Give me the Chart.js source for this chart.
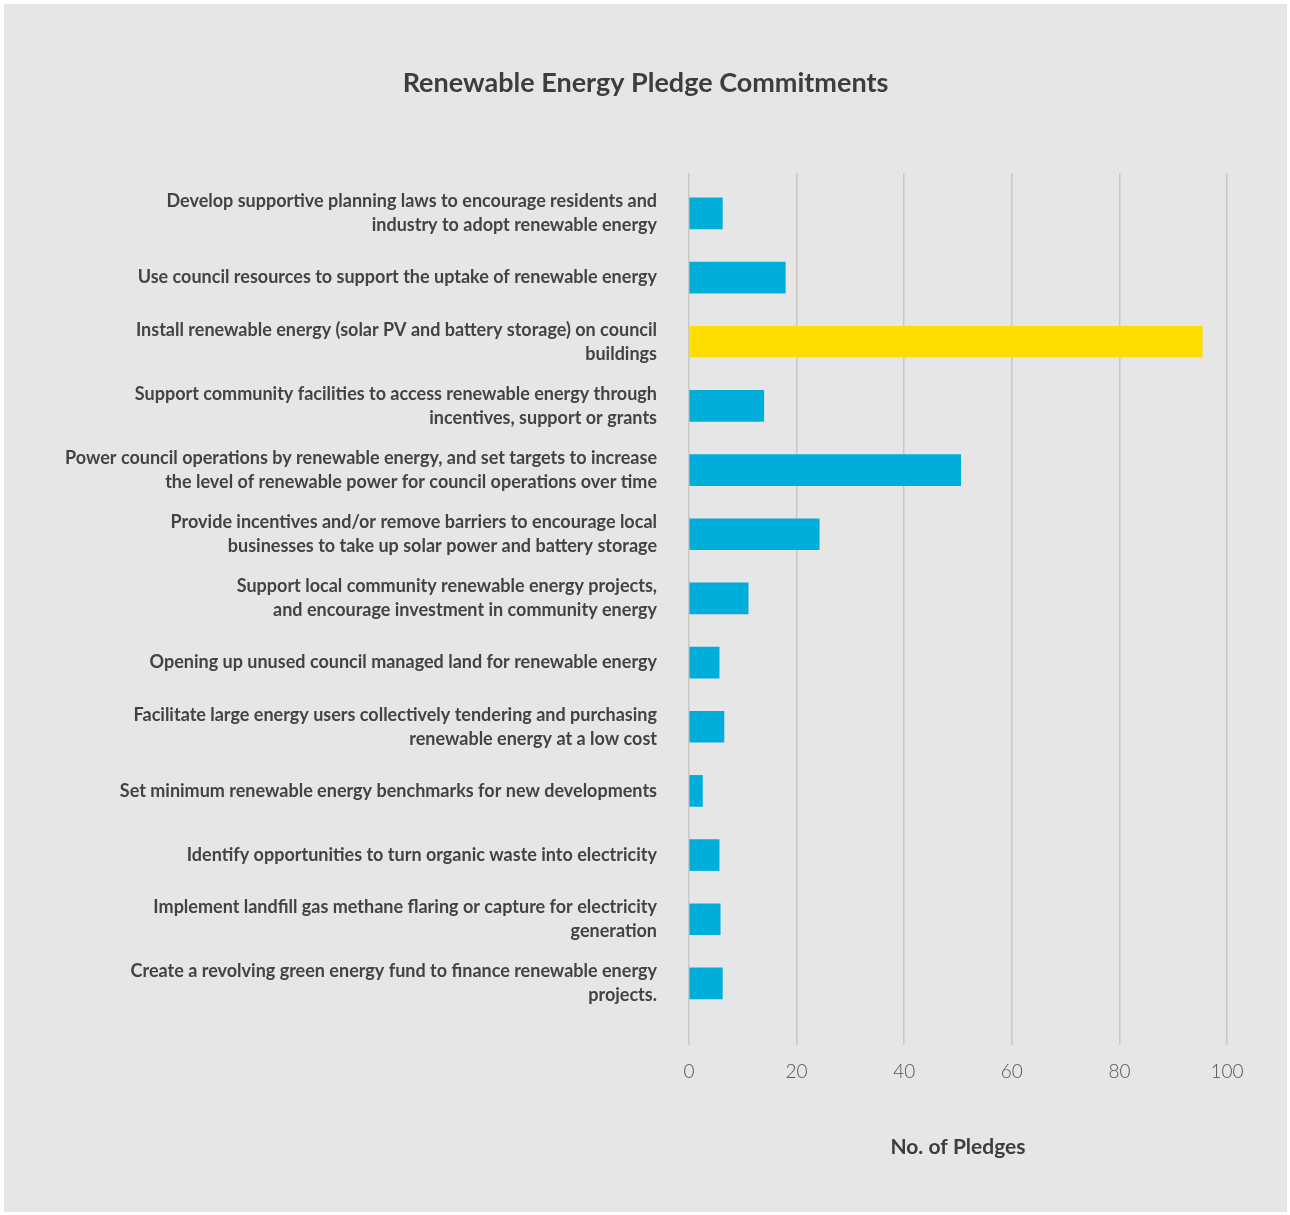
<!DOCTYPE html>
<html>
<head>
<meta charset="utf-8">
<script src="https://cdn.jsdelivr.net/npm/chart.js@4"></script>
<style>
  html, body { margin: 0; padding: 0; background: #ffffff; }
  #box { position: absolute; left: 4px; top: 4px; width: 1283px; height: 1208px; background: #e6e6e6; }
</style>
</head>
<body>
<div id="box"><canvas id="pledgeChart"></canvas></div>
<script>
// Pledge categories (multi-line labels as in the original)
const labels = [
  ['Develop supportive planning laws to encourage residents and', 'industry to adopt renewable energy'],
  'Use council resources to support the uptake of renewable energy',
  ['Install renewable energy (solar PV and battery storage) on council', 'buildings'],
  ['Support community facilities to access renewable energy through', 'incentives, support or grants'],
  ['Power council operations by renewable energy, and set targets to increase', 'the level of renewable power for council operations over time'],
  ['Provide incentives and/or remove barriers to encourage local', 'businesses to take up solar power and battery storage'],
  ['Support local community renewable energy projects,', 'and encourage investment in community energy'],
  'Opening up unused council managed land for renewable energy',
  ['Facilitate large energy users collectively tendering and purchasing', 'renewable energy at a low cost'],
  'Set minimum renewable energy benchmarks for new developments',
  'Identify opportunities to turn organic waste into electricity',
  ['Implement landfill gas methane flaring or capture for electricity', 'generation'],
  ['Create a revolving green energy fund to finance renewable energy', 'projects.']
];

// Number of pledges per category
const pledges = [6.2, 17.9, 95.4, 13.9, 50.5, 24.2, 11, 5.6, 6.5, 2.5, 5.6, 5.8, 6.2];

// x axis ticks
const xTicks = [0, 20, 40, 60, 80, 100];

const highlight = 2; // the yellow bar

const blue = '#00aedb';
const yellow = '#ffdd00';
const textColor = '#434343';
const font = 'Lato, "Open Sans", sans-serif';

const ctx = document.getElementById('pledgeChart').getContext('2d');
new Chart(ctx, {
  type: 'bar',
  data: {
    datasets: [{
      data: pledges.map((v, i) => ({ x: v, y: i })),
      backgroundColor: pledges.map((v, i) => i === highlight ? yellow : blue),
      barThickness: 31
    }]
  },
  options: {
    indexAxis: 'y',
    responsive: true,
    maintainAspectRatio: false,
    animation: false,
    layout: { padding: { left: 60, right: 60, top: 0, bottom: 0 } },
    plugins: {
      legend: { display: false },
      tooltip: { enabled: false },
      title: {
        display: true,
        text: 'Renewable Energy Pledge Commitments',
        color: '#3d3d3d',
        font: { family: font, size: 27, weight: 'bold', lineHeight: 1.2 },
        padding: { top: 63, bottom: 73.6 }
      }
    },
    scales: {
      x: {
        type: 'linear',
        min: 0,
        max: 100,
        afterBuildTicks: s => { s.ticks = xTicks.map(v => ({ value: v })); },
        grid: { color: '#c8c8c8', lineWidth: 1.5, drawTicks: false },
        border: { display: false },
        ticks: {
          color: '#555555',
          padding: 15,
          font: { family: font, size: 19, weight: 300, lineHeight: 1.2 }
        },
        title: {
          display: true,
          text: 'No. of Pledges',
          color: '#3d3d3d',
          font: { family: font, size: 21, weight: 'bold', lineHeight: 1.2 },
          padding: { top: 37, bottom: 52 }
        }
      },
      y: {
        type: 'linear',
        reverse: true,
        offset: false,
        bounds: 'data',
        min: -0.63,
        max: 12.96,
        afterBuildTicks: s => { s.ticks = labels.map((l, i) => ({ value: i })); },
        afterFit: s => { s.width = 625; s.paddingTop = 0; s.paddingBottom = 0; },
        grid: { display: false, drawTicks: false },
        border: { display: false },
        ticks: {
          autoSkip: false,
          padding: 32,
          color: textColor,
          font: { family: font, size: 18, weight: 'bold', lineHeight: 1.333 },
          callback: v => labels[v]
        }
      }
    }
  }
});
</script>
</body>
</html>
